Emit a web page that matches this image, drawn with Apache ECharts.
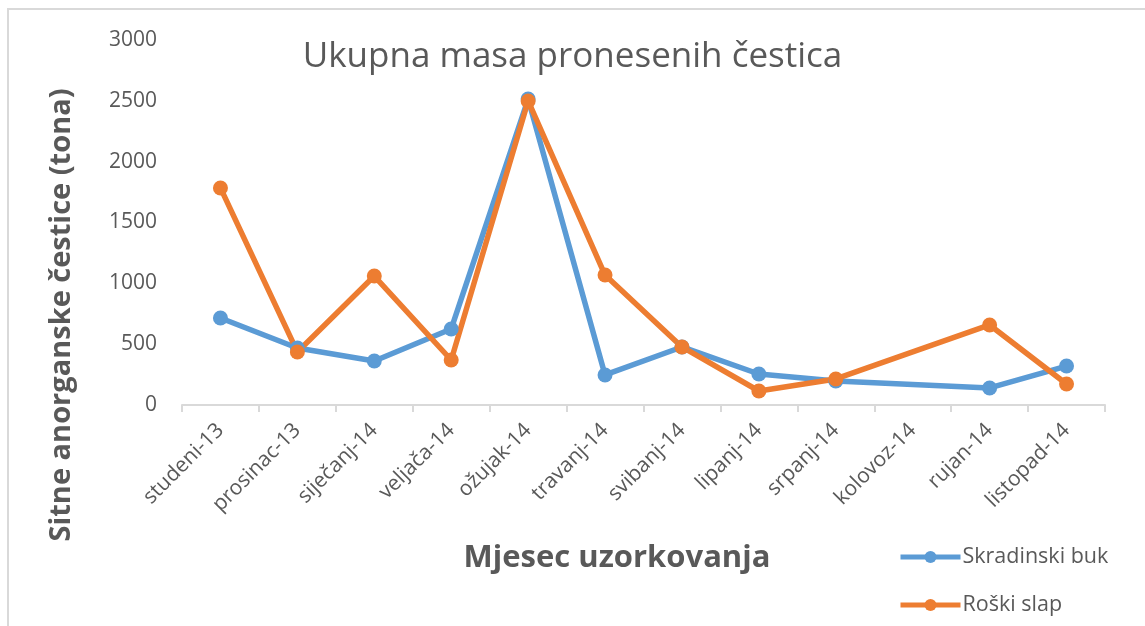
<!DOCTYPE html>
<html lang="hr">
<head>
    <meta charset="utf-8" />
    <title>Ukupna masa pronesenih čestica</title>
    <script src="https://cdn.jsdelivr.net/npm/echarts@6/dist/echarts.min.js"></script>
    <style>
        html, body { margin: 0; padding: 0; background: #fff; overflow: hidden; }
        #main { width: 1145px; height: 626px; }
    </style>
</head>
<body>
    <div id="main"></div>
    <script>
        // mjeseci uzorkovanja
        var months = ['studeni-13', 'prosinac-13', 'siječanj-14', 'veljača-14', 'ožujak-14', 'travanj-14',
            'svibanj-14', 'lipanj-14', 'srpanj-14', 'kolovoz-14', 'rujan-14', 'listopad-14'];
        // kolovoz nema mjerenja
        var skradinskiBuk = [715, 468, 362, 625, 2515, 247, 477, 255, 197, null, 140, 320];
        var roskiSlap = [1784, 436, 1060, 370, 2499, 1068, 477, 115, 214, null, 658, 173];
        var yTicks = [0, 500, 1000, 1500, 2000, 2500, 3000];

        var txt = '#595959';
        var font = '"Open Sans", "Noto Sans", sans-serif';

        var myChart = echarts.init(document.getElementById('main'));

        function lineSeries(name, data, color) {
            return {
                name: name,
                type: 'line',
                data: data,
                connectNulls: true,
                symbol: 'circle',
                symbolSize: 15,
                lineStyle: { width: 5.5, color: color },
                itemStyle: { color: color },
                emphasis: { disabled: true }
            };
        }

        var option = {
            animation: false,
            title: {
                text: 'Ukupna masa pronesenih čestica',
                left: 'center',
                top: 35,
                textStyle: { color: txt, fontSize: 35, fontWeight: 'normal', fontFamily: font }
            },
            grid: { left: 182, right: 40, top: 40, bottom: 221 },
            legend: {
                orient: 'vertical',
                left: 893,
                top: 541,
                itemWidth: 60,
                itemHeight: 15,
                itemGap: 26,
                lineStyle: { width: 5 },
                textStyle: { color: txt, fontSize: 21.5, fontFamily: font, padding: [0, 0, 0, -3] },
                data: ['Skradinski buk', 'Roški slap']
            },
            xAxis: {
                type: 'category',
                data: months,
                boundaryGap: true,
                axisLine: { lineStyle: { color: '#d9d9d9', width: 2 } },
                axisTick: { show: true, length: 7, lineStyle: { color: '#d9d9d9', width: 2 } },
                axisLabel: { rotate: 45, margin: 22, color: txt, fontSize: 21, fontFamily: font, interval: 0 }
            },
            yAxis: {
                type: 'value',
                min: yTicks[0],
                max: yTicks[yTicks.length - 1],
                interval: 500,
                splitLine: { show: false },
                axisLine: { show: false },
                axisTick: { show: false },
                axisLabel: {
                    margin: 25, color: txt, fontSize: 21, fontFamily: font,
                    formatter: function (v) { return String(v); }
                }
            },
            graphic: [
                {
                    type: 'rect',
                    shape: { x: 8, y: 9, width: 1300, height: 800 },
                    style: { fill: 'none', stroke: '#d9d9d9', lineWidth: 2 },
                    silent: true
                },
                {
                    type: 'text',
                    x: 62,
                    y: 315,
                    rotation: Math.PI / 2,
                    style: {
                        text: 'Sitne anorganske čestice (tona)',
                        fill: txt,
                        font: 'bold 29px ' + font,
                        align: 'center',
                        verticalAlign: 'middle'
                    }
                },
                {
                    type: 'text',
                    x: 617,
                    y: 558,
                    style: {
                        text: 'Mjesec uzorkovanja',
                        fill: txt,
                        font: 'bold 31px ' + font,
                        align: 'center',
                        verticalAlign: 'middle'
                    }
                }
            ],
            series: [
                lineSeries('Skradinski buk', skradinskiBuk, '#5b9bd5'),
                lineSeries('Roški slap', roskiSlap, '#ed7d31')
            ]
        };

        myChart.setOption(option);
    </script>
</body>
</html>
